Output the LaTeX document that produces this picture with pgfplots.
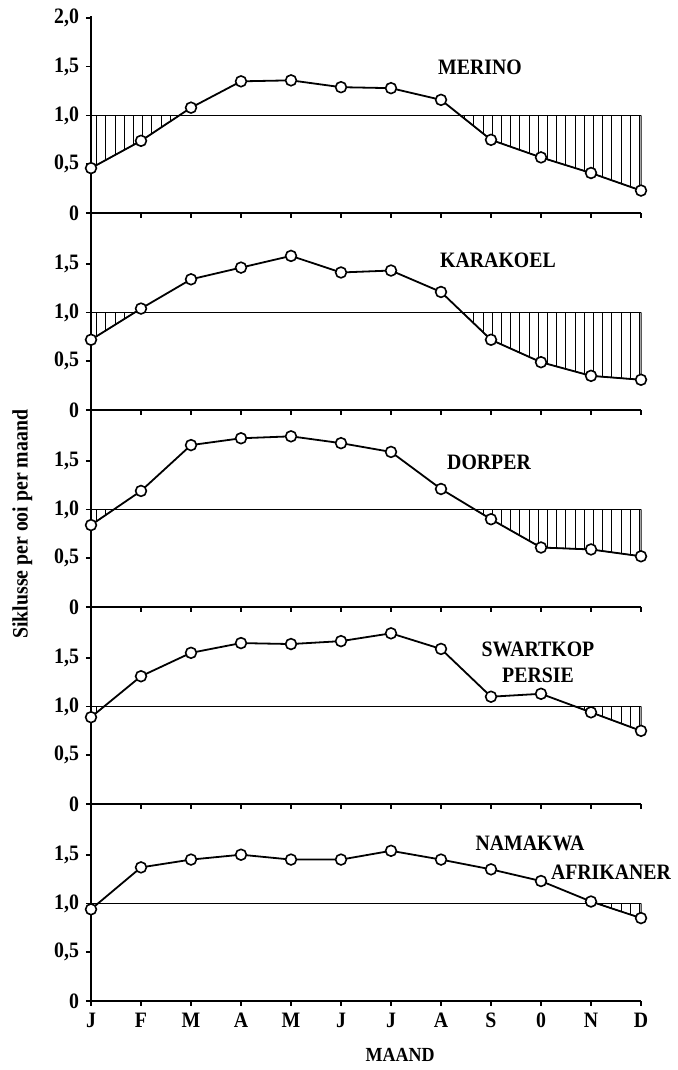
\documentclass[border=0pt]{standalone}
\usepackage{pgfplots}
\pgfplotsset{compat=1.18}
\usetikzlibrary{patterns}
\usepackage{fontspec}
\setmainfont{Liberation Serif}[FakeStretch=0.9]

\pgfdeclarepatternformonly{vlines}{\pgfqpoint{-1pt}{-1pt}}{\pgfqpoint{5.6pt}{5.6pt}}{\pgfqpoint{4.6pt}{4.6pt}}{%
  \pgfsetlinewidth{0.5pt}%
  \pgfpathmoveto{\pgfqpoint{2.3pt}{-0.2pt}}%
  \pgfpathlineto{\pgfqpoint{2.3pt}{4.8pt}}%
  \pgfusepath{stroke}}

\tikzset{brd/.style={font=\bfseries\fontsize{11}{13}\selectfont, align=center}}

\pgfplotsset{
  panel/.style={
    at={(0pt,#1)}, anchor=south west,
    width=275pt, height=98.5pt, scale only axis,
    xmin=0, xmax=11, ymin=0, ymax=2.02,
    axis x line=bottom, axis y line=left,
    axis line style={-, line width=1pt},
    xtick={0,...,11}, xticklabels={},
    ytick={0,0.5,1,1.5}, yticklabels={0,{0,5},{1,0},{1,5}},
    tick align=outside, major tick length=2.5pt,
    tick style={line width=0.8pt, black},
    clip=false,
    ticklabel style={font=\bfseries\fontsize{11}{12}\selectfont},
    label style={font=\bfseries\fontsize{11}{12}\selectfont},
    /pgf/number format/assume math mode=true,
  },
  curve/.style={black, line width=0.9pt, mark=*, mark size=2.7pt,
    mark options={fill=white, draw=black, line width=0.8pt}},
  refline/.style={black, line width=0.6pt, no marks},
  hatch/.style={draw=black, line width=0.5pt, pattern=vlines, no marks},
}

\begin{document}
\begin{tikzpicture}
\useasboundingbox (-45.5pt,-34.5pt) rectangle (293.5pt,500.5pt);

% MERINO
\begin{axis}[panel=394pt, ytick={0,0.5,1,1.5,2}, yticklabels={0,{0,5},{1,0},{1,5},{2,0}}]
\addplot[hatch] coordinates {(0,1) (0,0.46) (1,0.74) (1.765,1)};
\addplot[hatch] coordinates {(7.39,1) (8,0.75) (9,0.57) (10,0.41) (11,0.23) (11,1)};
\addplot[refline] coordinates {(0,1) (11,1)};
\addplot[curve] coordinates {
(0,0.46) (1,0.74) (2,1.08) (3,1.35) (4,1.36) (5,1.29)
(6,1.28) (7,1.16) (8,0.75) (9,0.57) (10,0.41) (11,0.23)};
\node[brd] at (axis cs:7.78,1.49) {MERINO};
\end{axis}

% KARAKOEL
\begin{axis}[panel=295.5pt]
\addplot[hatch] coordinates {(0,1) (0,0.72) (0.875,1)};
\addplot[hatch] coordinates {(7.429,1) (8,0.72) (9,0.49) (10,0.35) (11,0.31) (11,1)};
\addplot[refline] coordinates {(0,1) (11,1)};
\addplot[curve] coordinates {
(0,0.72) (1,1.04) (2,1.34) (3,1.46) (4,1.58) (5,1.41)
(6,1.43) (7,1.21) (8,0.72) (9,0.49) (10,0.35) (11,0.31)};
\node[brd] at (axis cs:8.14,1.53) {KARAKOEL};
\end{axis}

% DORPER
\begin{axis}[panel=197pt, ylabel={Siklusse per ooi per maand},
  ylabel style={at={(axis description cs:-0.125,0.42)}, anchor=center}]
\addplot[hatch] coordinates {(0,1) (0,0.84) (0.457,1)};
\addplot[hatch] coordinates {(7.677,1) (8,0.90) (9,0.61) (10,0.59) (11,0.52) (11,1)};
\addplot[refline] coordinates {(0,1) (11,1)};
\addplot[curve] coordinates {
(0,0.84) (1,1.19) (2,1.66) (3,1.73) (4,1.75) (5,1.68)
(6,1.59) (7,1.21) (8,0.90) (9,0.61) (10,0.59) (11,0.52)};
\node[brd] at (axis cs:7.96,1.48) {DORPER};
\end{axis}

% SWARTKOP PERSIE
\begin{axis}[panel=98.5pt]
\addplot[hatch] coordinates {(0,1) (0,0.89) (0.262,1)};
\addplot[hatch] coordinates {(9.684,1) (10,0.94) (11,0.75) (11,1)};
\addplot[refline] coordinates {(0,1) (11,1)};
\addplot[curve] coordinates {
(0,0.89) (1,1.31) (2,1.55) (3,1.65) (4,1.64) (5,1.67)
(6,1.75) (7,1.59) (8,1.10) (9,1.13) (10,0.94) (11,0.75)};
\node[brd] at (axis cs:8.94,1.45) {SWARTKOP\\PERSIE};
\end{axis}

% NAMAKWA AFRIKANER
\begin{axis}[panel=0pt, xticklabels={J,F,M,A,M,J,J,A,S,0,N,D},
  xlabel={MAAND},
  xlabel style={at={(axis description cs:0.562,0)}, anchor=center, yshift=-27pt,
    font=\bfseries\fontsize{10}{12}\selectfont}]
\addplot[hatch] coordinates {(0,1) (0,0.94) (0.14,1)};
\addplot[hatch] coordinates {(10.118,1) (11,0.85) (11,1)};
\addplot[refline] coordinates {(0,1) (11,1)};
\addplot[curve] coordinates {
(0,0.94) (1,1.37) (2,1.45) (3,1.50) (4,1.45) (5,1.45)
(6,1.54) (7,1.45) (8,1.35) (9,1.23) (10,1.02) (11,0.85)};
\node[brd] at (axis cs:8.78,1.62) {NAMAKWA};
\node[brd] at (axis cs:10.4,1.32) {AFRIKANER};
\end{axis}
\end{tikzpicture}
\end{document}
